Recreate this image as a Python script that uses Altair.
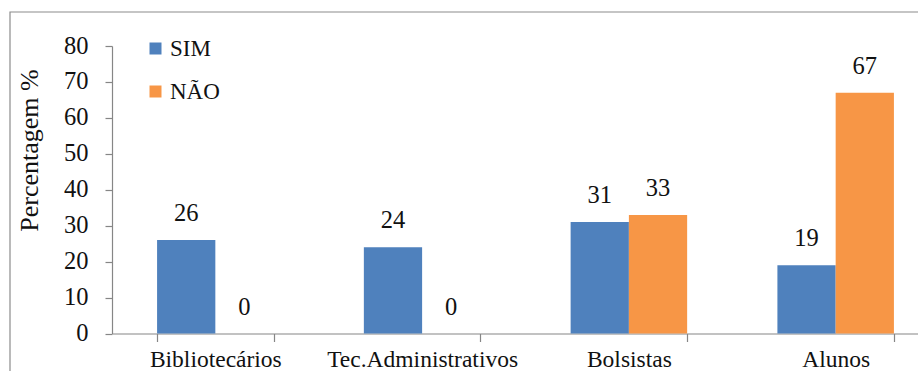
import altair as alt
import pandas as pd

categories = ["Bibliotecários", "Tec.Administrativos", "Bolsistas", "Alunos"]
series = ["SIM", "NÃO"]
sim_values = [26, 24, 31, 19]
nao_values = [0, 0, 33, 67]
colors = ["#4F81BD", "#F79646"]
y_ticks = [0, 10, 20, 30, 40, 50, 60, 70, 80]

rows = []
for c, s, n in zip(categories, sim_values, nao_values):
    rows.append({"cat": c, "serie": "SIM", "val": s})
    rows.append({"cat": c, "serie": "NÃO", "val": n})
df = pd.DataFrame(rows)

FONT = "Liberation Serif"

x_enc = alt.X("cat:N", sort=categories, title=None,
              scale=alt.Scale(range=[0, 827], paddingInner=0.4365, paddingOuter=0.218),
              axis=alt.Axis(labelAngle=0, tickBand="extent", labelFontSize=23.5,
                            labelFont=FONT, labelLimit=0, labelOverlap=False,
                            labelPadding=6, tickSize=8, labelColor="#111"))
xo_enc = alt.XOffset("serie:N", scale=alt.Scale(domain=series, paddingInner=0, paddingOuter=0))
y_enc = alt.Y("val:Q", scale=alt.Scale(domain=[0, 80], nice=False),
              axis=alt.Axis(values=y_ticks, title="Percentagem %", titleFontSize=26,
                            titleFont=FONT, titleFontWeight="normal", titleColor="#111",
                            titleAngle=-90, titleAlign="center", titleBaseline="alphabetic",
                            titleX=-75, titleY=104, labelFontSize=24.5, labelFont=FONT,
                            labelOverlap=False, labelPadding=17,
                            tickSize=7, labelColor="#111", grid=False))

base = alt.Chart(df)

bars = base.mark_bar().encode(
    x=x_enc,
    xOffset=xo_enc,
    y=y_enc,
    color=alt.Color("serie:N", scale=alt.Scale(domain=series, range=colors),
                    legend=alt.Legend(title=None, orient="none", legendX=32, legendY=-9,
                                      symbolType="square", symbolSize=144,
                                      symbolStrokeWidth=0, labelFontSize=23,
                                      labelFont=FONT, labelColor="#111",
                                      labelOffset=3, rowPadding=19, padding=0)),
)

labels = base.mark_text(font=FONT, fontSize=24.5, baseline="alphabetic", dy=-19, color="#111").encode(
    x=x_enc,
    xOffset=xo_enc,
    y=y_enc,
    text="val:Q",
)

frame = alt.Chart(alt.Data(values=[{}])).mark_rect(
    fill=None, stroke="#8c8c8c", strokeWidth=1.2
).encode(
    x=alt.value(-102), x2=alt.value(900), y=alt.value(-34), y2=alt.value(400)
)

chart = alt.layer(frame, bars, labels).properties(
    width=806, height=287.5,
    autosize=alt.AutoSizeParams(type="none"),
    padding={"left": 112, "top": 46, "right": 0, "bottom": 37.5},
).configure(font=FONT).configure_axis(
    labelFont=FONT, titleFont=FONT, domainColor="#868686", tickColor="#868686",
    domainWidth=1.2, tickWidth=1.2
).configure_legend(labelFont=FONT).configure_text(font=FONT).configure_view(stroke=None)

chart.save("out.html", embed_options={"renderer": "svg", "actions": False})
